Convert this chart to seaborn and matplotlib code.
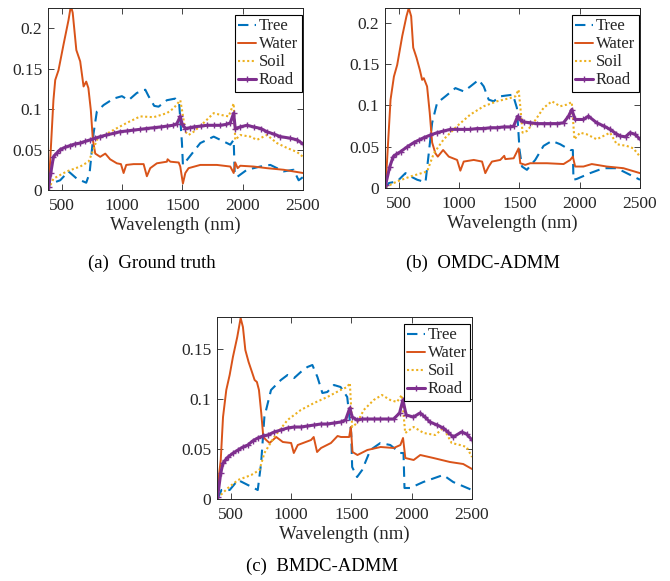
import numpy as np
import pandas as pd
import matplotlib
matplotlib.use("Agg")
import matplotlib.pyplot as plt
from matplotlib.ticker import FuncFormatter
import seaborn as sns

# ---------------- data ----------------
series_names = ["Tree", "Water", "Soil", "Road"]
panel_titles = ["(a)  Ground truth", "(b)  OMDC-ADMM", "(c)  BMDC-ADMM"]
x_ticks = [500, 1000, 1500, 2000, 2500]

# Panel (a) Ground truth
a_tree_x = [390, 403, 430, 486, 555, 624, 702, 730, 763, 790, 846, 929, 998, 1053, 1122, 1192, 1219, 1266, 1302, 1371, 1440, 1473, 1496, 1504, 1537, 1648, 1759, 1814, 1897, 1925, 1933, 1952, 2035, 2146, 2229, 2340, 2422, 2464, 2500]
a_tree_y = [0.0, 0.012, 0.009, 0.012, 0.023, 0.014, 0.009, 0.021, 0.070, 0.097, 0.105, 0.113, 0.116, 0.111, 0.120, 0.124, 0.116, 0.104, 0.103, 0.111, 0.113, 0.107, 0.058, 0.031, 0.037, 0.058, 0.066, 0.062, 0.056, 0.062, 0.023, 0.016, 0.025, 0.029, 0.031, 0.023, 0.025, 0.012, 0.016]
a_water_x = [390, 430, 445, 472, 514, 555, 575, 590, 620, 652, 680, 702, 720, 740, 757, 777, 818, 860, 900, 956, 990, 1012, 1034, 1095, 1178, 1205, 1233, 1288, 1371, 1377, 1400, 1469, 1482, 1504, 1524, 1551, 1648, 1786, 1897, 1925, 1938, 1958, 1980, 2090, 2201, 2340, 2500]
a_water_y = [0.0, 0.111, 0.136, 0.148, 0.180, 0.210, 0.228, 0.219, 0.173, 0.159, 0.128, 0.134, 0.126, 0.099, 0.062, 0.045, 0.041, 0.045, 0.038, 0.033, 0.032, 0.021, 0.031, 0.032, 0.032, 0.017, 0.027, 0.033, 0.035, 0.038, 0.035, 0.034, 0.029, 0.008, 0.021, 0.027, 0.031, 0.031, 0.029, 0.021, 0.034, 0.027, 0.030, 0.029, 0.027, 0.025, 0.021]
a_soil_x = [390, 430, 541, 652, 721, 749, 790, 901, 1039, 1150, 1261, 1371, 1427, 1482, 1501, 1524, 1551, 1593, 1676, 1759, 1814, 1883, 1925, 1938, 1980, 2062, 2118, 2201, 2284, 2367, 2450, 2500]
a_soil_y = [0.001, 0.014, 0.023, 0.029, 0.035, 0.045, 0.062, 0.072, 0.083, 0.091, 0.090, 0.095, 0.101, 0.111, 0.095, 0.072, 0.068, 0.072, 0.083, 0.095, 0.093, 0.091, 0.107, 0.062, 0.068, 0.066, 0.062, 0.068, 0.058, 0.052, 0.047, 0.041]
a_road_x = [390, 408, 430, 460, 486, 530, 569, 610, 652, 690, 735, 775, 818, 870, 929, 980, 1039, 1090, 1150, 1200, 1261, 1320, 1371, 1420, 1454, 1482, 1496, 1524, 1560, 1593, 1650, 1704, 1760, 1814, 1860, 1897, 1925, 1938, 1980, 2035, 2090, 2150, 2201, 2260, 2312, 2395, 2450, 2500]
a_road_y = [0.004, 0.021, 0.041, 0.046, 0.050, 0.053, 0.055, 0.057, 0.058, 0.060, 0.062, 0.064, 0.066, 0.068, 0.070, 0.072, 0.073, 0.074, 0.075, 0.076, 0.077, 0.078, 0.079, 0.080, 0.082, 0.091, 0.082, 0.076, 0.077, 0.078, 0.079, 0.080, 0.080, 0.080, 0.081, 0.083, 0.095, 0.076, 0.078, 0.080, 0.078, 0.076, 0.072, 0.069, 0.066, 0.064, 0.062, 0.057]

# Panel (b) OMDC-ADMM
b_tree_x = [390, 417, 486, 555, 597, 652, 721, 748, 776, 817, 886, 969, 1038, 1093, 1162, 1204, 1245, 1286, 1341, 1391, 1446, 1479, 1501, 1521, 1562, 1631, 1700, 1769, 1838, 1921, 1943, 1948, 1976, 2086, 2197, 2307, 2417, 2500]
b_tree_y = [0.0, 0.006, 0.008, 0.018, 0.014, 0.010, 0.007, 0.042, 0.079, 0.103, 0.111, 0.121, 0.117, 0.123, 0.131, 0.123, 0.107, 0.105, 0.111, 0.112, 0.113, 0.097, 0.046, 0.026, 0.022, 0.034, 0.051, 0.057, 0.053, 0.046, 0.046, 0.010, 0.011, 0.018, 0.024, 0.024, 0.016, 0.010]
b_water_x = [390, 431, 459, 486, 528, 563, 582, 602, 619, 646, 674, 693, 707, 734, 756, 776, 803, 823, 867, 914, 983, 1010, 1038, 1121, 1190, 1217, 1245, 1272, 1341, 1374, 1383, 1452, 1493, 1507, 1548, 1590, 1728, 1866, 1921, 1943, 1962, 2031, 2100, 2224, 2362, 2500]
b_water_y = [0.002, 0.107, 0.135, 0.149, 0.184, 0.208, 0.218, 0.208, 0.170, 0.158, 0.143, 0.131, 0.133, 0.123, 0.091, 0.055, 0.042, 0.038, 0.046, 0.038, 0.034, 0.021, 0.032, 0.034, 0.032, 0.018, 0.026, 0.032, 0.034, 0.039, 0.035, 0.036, 0.048, 0.030, 0.028, 0.030, 0.030, 0.029, 0.034, 0.038, 0.026, 0.026, 0.029, 0.026, 0.024, 0.018]
b_soil_x = [390, 486, 597, 734, 790, 872, 983, 1093, 1204, 1314, 1424, 1466, 1493, 1507, 1526, 1562, 1617, 1700, 1769, 1838, 1893, 1934, 1956, 2003, 2059, 2141, 2252, 2307, 2390, 2445, 2500]
b_soil_y = [0.001, 0.008, 0.014, 0.020, 0.042, 0.059, 0.075, 0.089, 0.099, 0.105, 0.109, 0.111, 0.119, 0.099, 0.067, 0.069, 0.079, 0.097, 0.105, 0.099, 0.101, 0.104, 0.059, 0.067, 0.065, 0.059, 0.067, 0.053, 0.051, 0.048, 0.038]
b_road_x = [390, 425, 453, 480, 514, 570, 624, 665, 707, 760, 817, 870, 928, 980, 1038, 1090, 1148, 1200, 1259, 1310, 1369, 1420, 1452, 1486, 1501, 1534, 1590, 1645, 1700, 1755, 1810, 1866, 1907, 1934, 1962, 2031, 2072, 2141, 2200, 2252, 2300, 2334, 2380, 2417, 2459, 2500]
b_road_y = [0.004, 0.026, 0.038, 0.041, 0.044, 0.050, 0.055, 0.058, 0.061, 0.064, 0.067, 0.069, 0.071, 0.071, 0.071, 0.071, 0.072, 0.072, 0.073, 0.073, 0.074, 0.074, 0.075, 0.087, 0.083, 0.080, 0.079, 0.078, 0.078, 0.078, 0.078, 0.079, 0.087, 0.095, 0.083, 0.083, 0.087, 0.079, 0.075, 0.071, 0.066, 0.063, 0.062, 0.067, 0.065, 0.059]

# Panel (c) BMDC-ADMM
c_tree_x = [390, 422, 490, 559, 641, 723, 751, 778, 833, 915, 970, 1025, 1080, 1135, 1176, 1218, 1259, 1300, 1355, 1410, 1465, 1498, 1506, 1547, 1589, 1657, 1740, 1822, 1904, 1932, 1940, 1987, 2096, 2261, 2344, 2500]
c_tree_y = [0.0, 0.009, 0.009, 0.019, 0.014, 0.009, 0.036, 0.082, 0.109, 0.119, 0.124, 0.121, 0.127, 0.132, 0.134, 0.122, 0.106, 0.107, 0.114, 0.112, 0.102, 0.066, 0.032, 0.022, 0.029, 0.049, 0.056, 0.054, 0.046, 0.046, 0.011, 0.011, 0.017, 0.024, 0.017, 0.009]
c_water_x = [390, 416, 435, 462, 490, 517, 553, 581, 600, 620, 647, 675, 697, 716, 733, 752, 769, 793, 821, 876, 931, 1000, 1022, 1055, 1165, 1187, 1215, 1248, 1330, 1385, 1413, 1481, 1495, 1509, 1550, 1632, 1742, 1851, 1906, 1928, 1947, 2016, 2071, 2180, 2317, 2427, 2500]
c_water_y = [0.012, 0.039, 0.082, 0.109, 0.124, 0.142, 0.162, 0.181, 0.172, 0.149, 0.137, 0.127, 0.119, 0.117, 0.109, 0.086, 0.062, 0.059, 0.056, 0.062, 0.057, 0.056, 0.046, 0.054, 0.059, 0.062, 0.047, 0.051, 0.056, 0.063, 0.062, 0.062, 0.072, 0.047, 0.044, 0.049, 0.052, 0.051, 0.054, 0.061, 0.041, 0.039, 0.044, 0.041, 0.037, 0.035, 0.030]
c_soil_x = [390, 476, 559, 669, 737, 778, 860, 970, 1080, 1190, 1300, 1410, 1465, 1487, 1506, 1547, 1602, 1685, 1753, 1822, 1877, 1918, 1946, 2016, 2099, 2195, 2263, 2331, 2400, 2455, 2500]
c_soil_y = [0.001, 0.011, 0.019, 0.024, 0.029, 0.046, 0.062, 0.079, 0.089, 0.096, 0.102, 0.109, 0.112, 0.116, 0.072, 0.076, 0.089, 0.099, 0.104, 0.099, 0.097, 0.104, 0.066, 0.072, 0.066, 0.064, 0.071, 0.056, 0.054, 0.052, 0.042]
c_road_x = [390, 416, 435, 455, 476, 520, 559, 600, 641, 680, 723, 765, 806, 860, 915, 970, 1025, 1080, 1135, 1190, 1245, 1300, 1355, 1410, 1451, 1487, 1506, 1547, 1590, 1630, 1690, 1740, 1800, 1850, 1899, 1927, 1954, 2014, 2069, 2110, 2151, 2210, 2261, 2300, 2344, 2413, 2455, 2500]
c_road_y = [0.002, 0.026, 0.036, 0.039, 0.042, 0.046, 0.049, 0.052, 0.054, 0.058, 0.061, 0.063, 0.064, 0.067, 0.069, 0.071, 0.072, 0.072, 0.073, 0.074, 0.075, 0.075, 0.076, 0.077, 0.079, 0.091, 0.082, 0.079, 0.080, 0.080, 0.080, 0.080, 0.080, 0.080, 0.086, 0.099, 0.084, 0.082, 0.086, 0.082, 0.077, 0.074, 0.071, 0.067, 0.062, 0.067, 0.065, 0.059]

y_limits = [0.225, 0.218, 0.182]
y_tick_sets = [[0, 0.05, 0.1, 0.15, 0.2], [0, 0.05, 0.1, 0.15, 0.2], [0, 0.05, 0.1, 0.15]]

panels = [
    {"Tree": (a_tree_x, a_tree_y), "Water": (a_water_x, a_water_y), "Soil": (a_soil_x, a_soil_y), "Road": (a_road_x, a_road_y)},
    {"Tree": (b_tree_x, b_tree_y), "Water": (b_water_x, b_water_y), "Soil": (b_soil_x, b_soil_y), "Road": (b_road_x, b_road_y)},
    {"Tree": (c_tree_x, c_tree_y), "Water": (c_water_x, c_water_y), "Soil": (c_soil_x, c_soil_y), "Road": (c_road_x, c_road_y)},
]

# ---------------- style ----------------
sns.set_theme(style="ticks")
plt.rcParams["font.family"] = ["Liberation Serif", "DejaVu Serif"]

colors = {"Tree": "#0072BD", "Water": "#D95319", "Soil": "#EDB120", "Road": "#7E2F8E"}
styles = {
    "Tree": dict(linestyle=(0, (5, 3)), lw=1.5),
    "Water": dict(linestyle="-", lw=1.4),
    "Soil": dict(linestyle=(0, (1, 1.2)), lw=1.5),
    "Road": dict(linestyle="-", lw=2.2, marker="+", markersize=5, markeredgewidth=1.0,
                 markeredgecolor="#7E2F8E"),
}

W, H = 670, 581
fig = plt.figure(figsize=(W / 100, H / 100), dpi=100)

# axes boxes in pixels: left, top, right, bottom
boxes = [(48, 8, 303, 190), (385, 8, 640, 188), (217, 317, 472, 499)]
caption_centers = [(152, 263), (483, 263), (322, 566)]

for i, (panel, box) in enumerate(zip(panels, boxes)):
    l, t, r, b = box
    ax = fig.add_axes([l / W, 1 - b / H, (r - l) / W, (b - t) / H])
    for name in series_names:
        xs, ys = panel[name]
        df = pd.DataFrame({"Wavelength": xs, "Value": ys})
        sns.lineplot(data=df, x="Wavelength", y="Value", ax=ax, color=colors[name],
                     label=name, estimator=None, sort=False, **styles[name])
    ax.set_xlim(385, 2500)
    ax.set_ylim(0, y_limits[i])
    ax.set_xticks(x_ticks)
    ax.set_yticks(y_tick_sets[i])
    ax.yaxis.set_major_formatter(FuncFormatter(lambda v, p: "0" if v == 0 else f"{v:g}"))
    ax.tick_params(direction="in", length=4, width=0.6, labelsize=12.5, colors="#262626",
                   top=True, right=True)
    ax.tick_params(axis="x", pad=6)
    ax.tick_params(axis="y", pad=4)
    for sp in ax.spines.values():
        sp.set_linewidth(0.7)
        sp.set_color("#262626")
    ax.set_xlabel("Wavelength (nm)", fontsize=13.5, color="#262626", labelpad=2)
    ax.set_ylabel("")
    hgt = b - t
    wid = r - l
    leg = ax.legend(loc="upper right", bbox_to_anchor=(1 - 1.5 / wid, 1 - 7 / hgt),
                    fontsize=12, frameon=True, fancybox=False,
                    edgecolor="black", framealpha=1, borderpad=0.2, labelspacing=0.12,
                    handlelength=1.1, handletextpad=0.15, borderaxespad=0.0)
    leg.get_frame().set_linewidth(0.8)
    cx, cy = caption_centers[i]
    fig.text(cx / W, 1 - cy / H, panel_titles[i], ha="center", va="center", fontsize=13.5,
             color="black")

fig.savefig("out.png", dpi=100)
